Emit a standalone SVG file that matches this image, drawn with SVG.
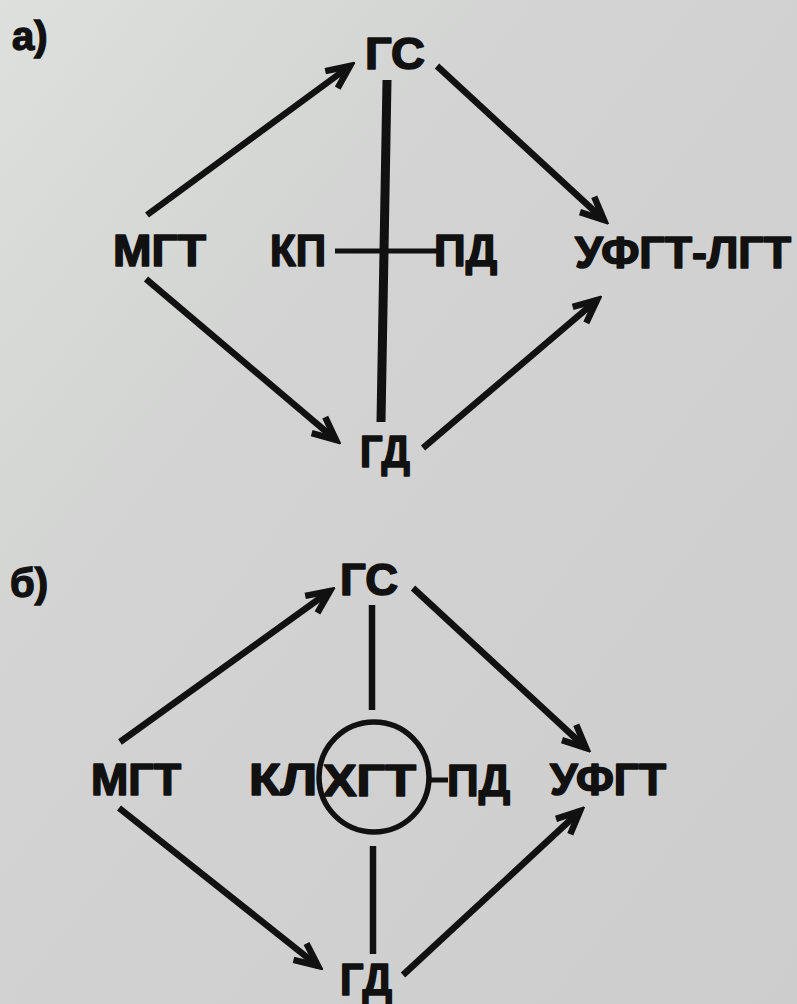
<svg xmlns="http://www.w3.org/2000/svg" width="797" height="1004" viewBox="0 0 797 1004">
  <defs>
    <linearGradient id="paper" x1="0" y1="0" x2="1" y2="1">
      <stop offset="0" stop-color="#dde0dd"/>
      <stop offset="0.35" stop-color="#d2d3d2"/>
      <stop offset="1" stop-color="#cdcdcd"/>
    </linearGradient>
    <marker id="head" markerUnits="userSpaceOnUse" viewBox="-30 -16 36 32" refX="0" refY="0" markerWidth="36" markerHeight="32" orient="auto">
      <path d="M -23 -10.5 L 0 0 L -23 10.5" fill="none" stroke="#111" stroke-width="6.5" stroke-linejoin="miter" stroke-linecap="butt"/>
    </marker>
  </defs>
  <style>
    .lbl { font-family: "Liberation Sans", Arial, sans-serif; font-weight: bold; font-size: 44px; fill: #111; stroke: #111; stroke-width: 1.6; stroke-linejoin: round; }
    .tag { font-family: "Liberation Sans", Arial, sans-serif; font-weight: bold; font-size: 40px; fill: #111; stroke: #111; stroke-width: 1.4; }
    .arr { stroke: #111; stroke-width: 6.5; fill: none; marker-end: url(#head); }
    .tie { stroke: #111; fill: none; }
  </style>

  <rect x="0" y="0" width="797" height="1004" fill="url(#paper)"/>

  <!-- panel a -->
  <text class="tag" x="12" y="50">а)</text>

  <g id="a-connectors">
    <line class="arr" x1="147" y1="215" x2="350" y2="66"/>
    <line class="arr" x1="437" y1="66" x2="604" y2="220"/>
    <line class="arr" x1="146" y1="279" x2="336" y2="440"/>
    <line class="arr" x1="423" y1="448" x2="597" y2="300"/>
    <line class="tie" x1="387" y1="80" x2="381" y2="422" stroke-width="9"/>
    <line class="tie" x1="335" y1="251" x2="437" y2="251" stroke-width="5"/>
  </g>

  <g id="a-gs"><text class="lbl" x="365" y="69" textLength="60" lengthAdjust="spacingAndGlyphs">ГС</text></g>
  <g id="a-mgt"><text class="lbl" x="113" y="266" textLength="93" lengthAdjust="spacingAndGlyphs">МГТ</text></g>
  <g id="a-kp"><text class="lbl" x="270" y="266" textLength="56" lengthAdjust="spacingAndGlyphs">КП</text></g>
  <g id="a-pd"><text class="lbl" x="434" y="266" textLength="63" lengthAdjust="spacingAndGlyphs">ПД</text></g>
  <g id="a-ufgt-lgt"><text class="lbl" x="575" y="268" textLength="216" lengthAdjust="spacingAndGlyphs">УФГТ-ЛГТ</text></g>
  <g id="a-gd"><text class="lbl" x="360" y="467" textLength="50" lengthAdjust="spacingAndGlyphs">ГД</text></g>

  <!-- panel b -->
  <text class="tag" x="10" y="597">б)</text>

  <g id="b-connectors">
    <line class="arr" x1="120" y1="742" x2="330" y2="591"/>
    <line class="arr" x1="413" y1="588" x2="586" y2="748"/>
    <line class="arr" x1="119" y1="808" x2="318" y2="966"/>
    <line class="arr" x1="403" y1="975" x2="580" y2="811"/>
    <line class="tie" x1="372" y1="605" x2="372" y2="710" stroke-width="6.5"/>
    <line class="tie" x1="373" y1="846" x2="373" y2="954" stroke-width="6.5"/>
    <line class="tie" x1="429" y1="780" x2="448" y2="780" stroke-width="5"/>
  </g>

  <g id="b-gs"><text class="lbl" x="340" y="595" textLength="58" lengthAdjust="spacingAndGlyphs">ГС</text></g>
  <g id="b-mgt"><text class="lbl" x="91" y="795" textLength="90" lengthAdjust="spacingAndGlyphs">МГТ</text></g>
  <g id="b-kl"><text class="lbl" x="249" y="795" textLength="68" lengthAdjust="spacingAndGlyphs">КЛ</text></g>
  <g id="b-xgt">
    <circle cx="374" cy="777" r="55" fill="none" stroke="#111" stroke-width="5.5"/>
    <text class="lbl" x="323" y="796" textLength="93" lengthAdjust="spacingAndGlyphs">ХГТ</text>
  </g>
  <g id="b-pd"><text class="lbl" x="447" y="796" textLength="63" lengthAdjust="spacingAndGlyphs">ПД</text></g>
  <g id="b-ufgt"><text class="lbl" x="550" y="795" textLength="116" lengthAdjust="spacingAndGlyphs">УФГТ</text></g>
  <g id="b-gd"><text class="lbl" x="340" y="995" textLength="52" lengthAdjust="spacingAndGlyphs">ГД</text></g>
</svg>
